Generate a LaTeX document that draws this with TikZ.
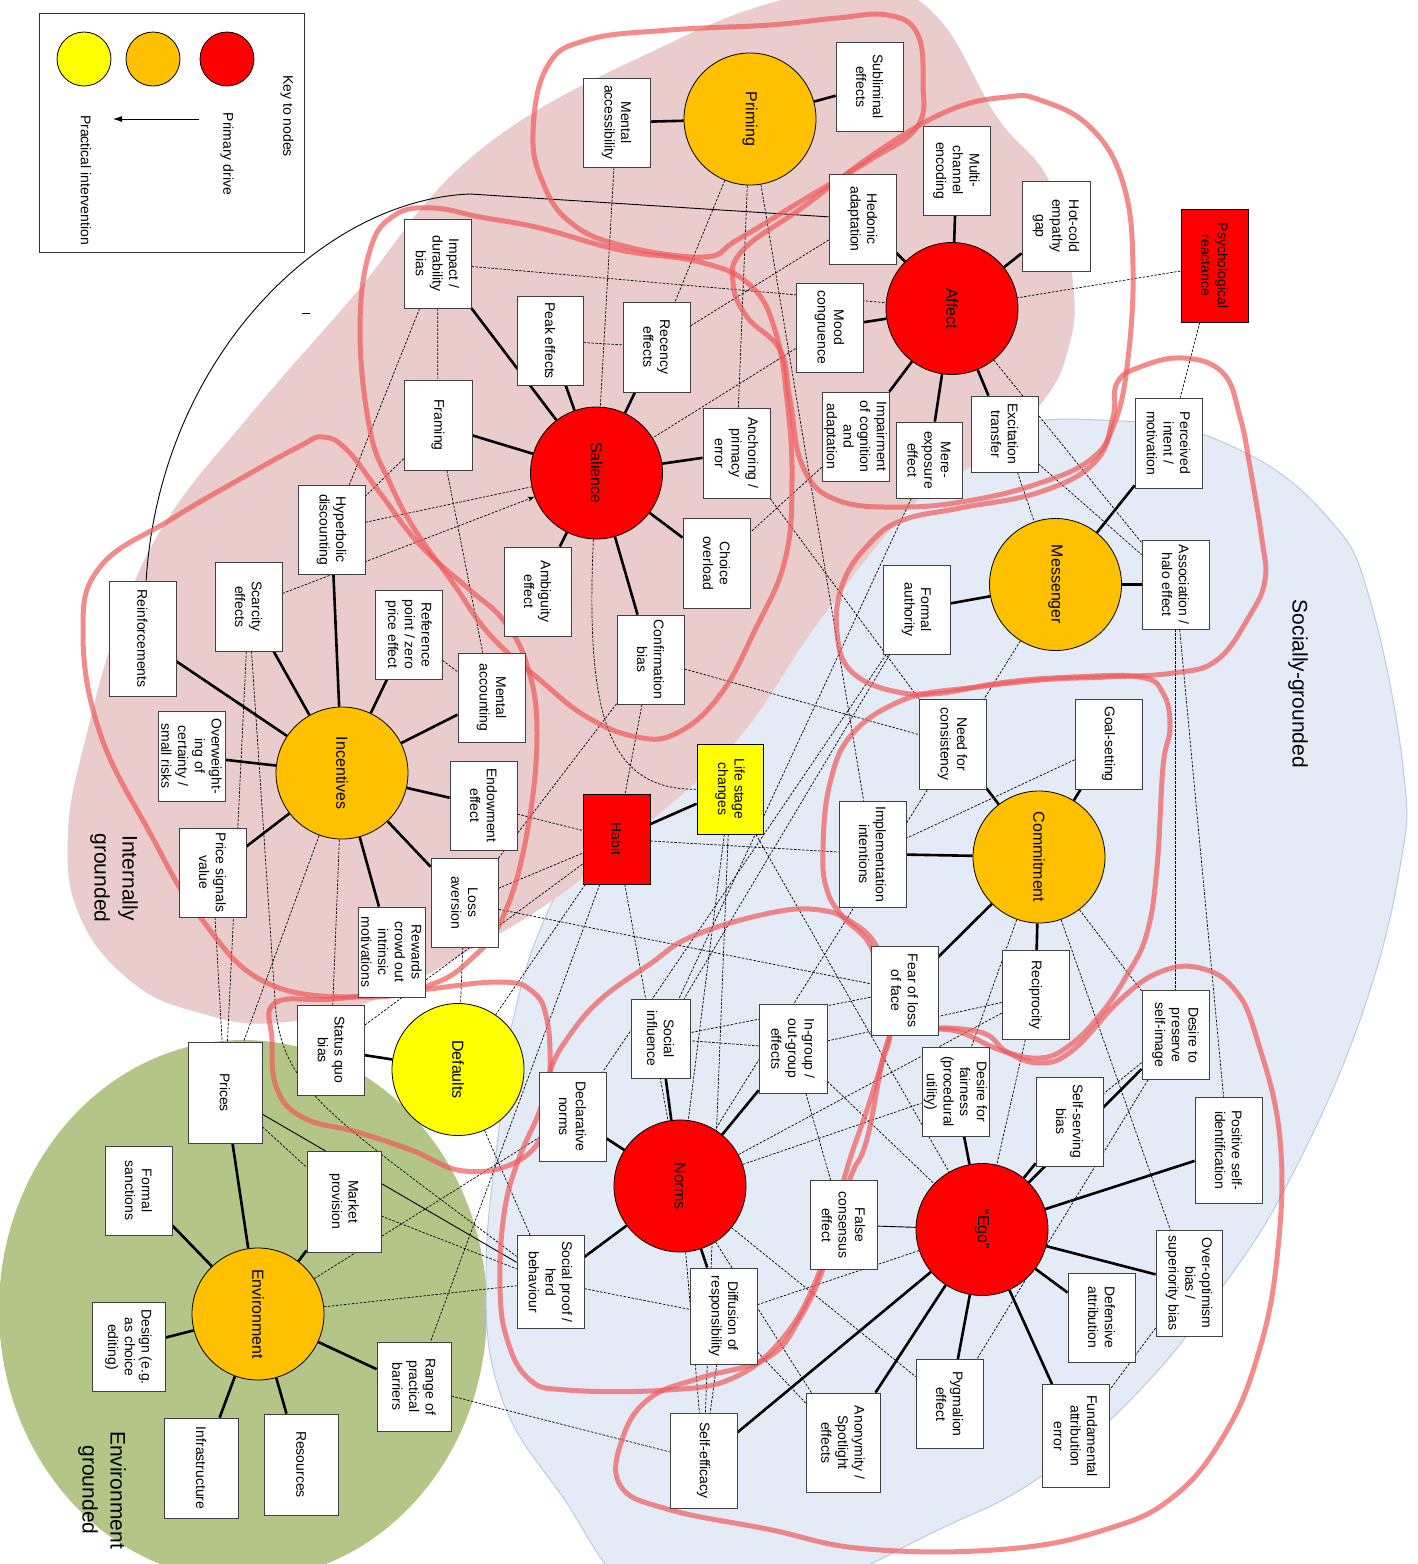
\documentclass[tikz,border=0pt]{standalone}
\usepackage{fontspec}
\setmainfont{Liberation Sans}
\usetikzlibrary{arrows.meta}
\definecolor{cred}{HTML}{FF0000}
\definecolor{corange}{HTML}{FFC000}
\definecolor{cyellow}{HTML}{FFFF00}
\definecolor{pinkreg}{HTML}{EACCCC}
\definecolor{bluereg}{HTML}{E4EBF6}
\definecolor{blueedge}{HTML}{B7CBE5}
\definecolor{greenreg}{HTML}{B3C687}
\definecolor{loopred}{HTML}{F05A5A}
\pgfdeclarelayer{regions}\pgfdeclarelayer{edges}\pgfdeclarelayer{loops}
\pgfsetlayers{regions,edges,loops,main}
\newcommand\mybox[5]{\node[box, minimum width=#4pt, minimum height=#3pt] (#1) at (#2) {#5};}
\begin{document}
\begin{tikzpicture}[x=1pt,y=-1pt,
  box/.style={draw=black!75, line width=0.8pt, fill=white, rectangle, rotate=-90, align=center, inner sep=0.5pt, font=\fontsize{14}{16.7}\selectfont},
  circ/.style={circle, draw=black, line width=0.8pt, minimum size=132pt, inner sep=0pt, rotate=-90, font=\fontsize{16}{19}\selectfont},
  keycirc/.style={circle, draw=black, line width=0.8pt, minimum size=54pt, inner sep=0pt},
  drive/.style={line width=2.6pt},
  dsh/.style={line width=0.7pt, dash pattern=on 2.5pt off 1.5pt},
  thinl/.style={line width=0.9pt},
  loopline/.style={draw=loopred, line width=5pt, draw opacity=0.7},
  big/.style={rotate=-90, align=center, font=\fontsize{21}{28}\selectfont},
  keytxt/.style={rotate=-90, font=\fontsize{14}{16}\selectfont}]
\useasboundingbox (0,0) rectangle (1418,1564);

% ---------------- regions
\begin{pgfonlayer}{regions}
\fill[greenreg] (243,1310) ellipse [x radius=244, y radius=270];
\filldraw[fill=bluereg, draw=blueedge, line width=1pt] plot[smooth cycle, tension=0.7] coordinates {
 (553,900) (650,720) (800,560) (970,440) (1122,421) (1240,450) (1330,520) (1370,600) (1403,767)
 (1400,867) (1360,1020) (1290,1179) (1223,1286) (1140,1390) (1040,1477) (940,1529) (800,1590)
 (650,1600) (560,1493) (500,1393) (486,1271) (500,1120) (513,1020)};
\fill[pinkreg] plot[smooth cycle, tension=0.7] coordinates {
 (480,150) (670,43) (800,-5) (880,-12) (940,20) (997,117) (1050,183) (1073,283) (1068,350)
 (1040,405) (980,460) (913,505) (820,620) (737,740) (640,830) (553,900) (470,950) (375,1000)
 (275,1023) (200,1013) (133,983) (80,917) (68,833) (87,733) (120,620) (167,520) (250,415) (350,300)};
\end{pgfonlayer}

% ---------------- legend
\node[draw=black!80, line width=0.8pt, minimum width=265pt, minimum height=239pt, inner sep=0pt] (keybox) at (171.5,132.5) {};
\node[keycirc, fill=cyellow] (ky) at (84,59) {};
\node[keycirc, fill=corange] (ko) at (153,59) {};
\node[keycirc, fill=cred] (kr) at (227,59) {};
\node[keytxt] (kt1) at (287,116) {Key to nodes};
\node[keytxt] (kt2) at (227,154) {Primary drive};
\node[keytxt] (kt3) at (86,180) {Practical intervention};
\coordinate (ka1) at (199,119);
\coordinate (ka2) at (113,119);
\draw[line width=0.8pt, -{Latex[length=9pt,width=6pt]}] (ka1) -- (ka2);
\coordinate (tk1) at (302,313);
\coordinate (tk2) at (310,313);
\draw[line width=0.8pt] (tk1) -- (tk2);

% ---------------- drive circles
\node[circ, fill=corange] (priming) at (750,119) {Priming};
\node[circ, fill=cred] (affect) at (952,308.5) {Affect};
\node[circ, fill=cred] (salience) at (596.5,473) {Salience};
\node[circ, fill=corange] (incentives) at (342,773) {Incentives};
\node[circ, fill=corange] (messenger) at (1055.5,584.5) {Messenger};
\node[circ, fill=corange] (commitment) at (1039,857) {Commitment};
\node[circ, fill=cyellow] (defaults) at (458,1069.5) {Defaults};
\node[circ, fill=corange] (environment) at (258,1314) {Environment};
\node[circ, fill=cred] (norms) at (680,1186) {Norms};
\node[circ, fill=cred] (ego) at (982,1229.5) {“Ego”};

% ---------------- boxes
\mybox{impact}{437.5,263.5}{67}{89}{Impact /\\durability\\bias}
\mybox{framing}{438,425}{68}{90}{Framing}
\mybox{hyper}{331.5,529.5}{67}{89}{Hyperbolic\\discounting}
\mybox{mentalacc}{616.5,122.5}{67}{89}{Mental\\accessibility}
\mybox{sublim}{869.5,86.5}{67}{89}{Subliminal\\effects}
\mybox{hedonic}{862.5,219}{67}{90}{Hedonic\\adaptation}
\mybox{multi}{956.5,170.5}{67}{89}{Multi-\\channel\\encoding}
\mybox{peak}{550,340.5}{66}{89}{Peak effects}
\mybox{recency}{656.5,347}{67}{90}{Recency\\effects}
\mybox{mood}{829.5,327.5}{67}{89}{Mood\\congruence}
\mybox{anchor}{736.5,453}{67}{90}{Anchoring /\\primacy\\error}
\mybox{impair}{855.5,436.5}{67}{89}{Impairment\\of cognition\\and\\adaptation}
\mybox{mere}{929,460}{66}{76}{Mere-\\exposure\\effect}
\mybox{hotcold}{1056,226}{68}{90}{Hot-cold\\empathy\\gap}
\node[box, fill=cred, draw=black, minimum width=113pt, minimum height=67pt] (psych) at (1214.5,265.5) {Psychological\\reactance};
\mybox{excit}{1004.5,434}{67}{76}{Excitation\\transfer}
\mybox{perceived}{1168.5,443}{67}{90}{Perceived\\intent /\\motivation}
\mybox{reinf}{142.5,638.5}{67}{115}{Reinforcements}
\mybox{scarcity}{248.5,606.5}{67}{89}{Scarcity\\effects}
\mybox{refpoint}{408.5,634.5}{67}{89}{Reference\\point / zero\\price effect}
\mybox{mentalacct}{491.5,697.5}{67}{89}{Mental\\accounting}
\mybox{overw}{191.5,756}{67}{90}{Overweight-\\ing of\\certainty /\\small risks}
\mybox{endow}{483.5,805.5}{67}{89}{Endowment\\effect}
\mybox{pricesig}{212.5,872.5}{67}{89}{Price signals\\value}
\mybox{loss}{464.5,902.5}{67}{89}{Loss\\aversion}
\mybox{rewards}{391.5,952}{67}{90}{Rewards\\crowd out\\intrinsic\\motivations}
\mybox{ambig}{537.5,591.5}{67}{89}{Ambiguity\\effect}
\mybox{choice}{716.5,563}{67}{90}{Choice\\overload}
\mybox{confirm}{650.5,659.5}{67}{89}{Confirmation\\bias}
\node[box, fill=cyellow, draw=black, minimum width=90pt, minimum height=66pt] (life) at (730,789) {Life stage\\changes};
\node[box, fill=cred, draw=black, minimum width=90pt, minimum height=67pt] (habit) at (616.5,839) {Habit};
\mybox{formal}{916.5,609.5}{67}{89}{Formal\\authority}
\mybox{needcons}{952.5,744}{67}{90}{Need for\\consistency}
\mybox{impl}{872.5,854}{67}{106}{Implementation\\intentions}
\mybox{fear}{904.5,990.5}{67}{89}{Fear of loss\\of face}
\mybox{assoc}{1175.5,584.5}{67}{89}{Association /\\halo effect}
\mybox{goal}{1108.5,744}{67}{90}{Goal-setting}
\mybox{recip}{1035.5,995}{67}{89}{Reciprocity}
\mybox{prices}{225,1092.5}{74}{101}{Prices}
\mybox{statusquo}{331,1050}{67}{90}{Status quo\\bias}
\mybox{formsanc}{138.5,1190.5}{67}{89}{Formal\\sanctions}
\mybox{market}{344,1201.5}{74}{101}{Market\\provision}
\mybox{design}{128.5,1347}{73}{89}{Design (e.g.\\as choice\\editing)}
\mybox{range}{414,1386.5}{74}{89}{Range of\\practical\\barriers}
\mybox{infra}{201,1468}{74}{100}{Infrastructure}
\mybox{resources}{301,1464.5}{74}{101}{Resources}
\mybox{socproof}{550.5,1282}{67}{93}{Social proof /\\herd\\behaviour}
\mybox{socinf}{660.5,1038.5}{59}{79}{Social\\influence}
\mybox{ingroup}{793,1048.5}{68}{89}{In-group /\\out-group\\effects}
\mybox{declnorms}{572.5,1116.5}{67}{89}{Declarative\\norms}
\mybox{fairness}{955.5,1091.5}{67}{89}{Desire for\\fairness\\(procedural\\utility)}
\mybox{falsecons}{843.5,1225}{67}{89}{False\\consensus\\effect}
\mybox{diffusion}{723.5,1316}{67}{96}{Diffusion of\\responsibility}
\mybox{anonym}{843,1442.5}{74}{99}{Anonymity /\\Spotlight\\effects}
\mybox{pygm}{949.5,1404}{67}{89}{Pygmalion\\effect}
\mybox{selfeff}{703.5,1460.5}{67}{95}{Self-efficacy}
\mybox{preserve}{1175.5,1035}{67}{89}{Desire to\\preserve\\self-image}
\mybox{selfserv}{1069.5,1121.5}{67}{89}{Self-serving\\bias}
\mybox{posself}{1228.5,1150}{67}{106}{Positive self-\\identification}
\mybox{overopt}{1189,1283}{66}{106}{Over-optimism\\bias /\\superiority bias}
\mybox{defattr}{1101.5,1317.5}{67}{89}{Defensive\\attribution}
\mybox{fundattr}{1075.5,1436}{67}{103}{Fundamental\\attribution\\error}

% ---------------- group labels
\node[big] (lblint) at (114,878) {Internally\\grounded};
\node[big] (lblenv) at (102,1490) {Environment\\grounded};
\node[big] (lblsoc) at (1298,684) {Socially-grounded};

% ---------------- connectors
\begin{pgfonlayer}{edges}
\foreach \a/\b in {priming/mentalacc, priming/sublim,
  affect/hedonic, affect/multi, affect/hotcold, affect/mood, affect/impair, affect/mere, affect/excit,
  salience/impact, salience/framing, salience/peak, salience/recency, salience/anchor, salience/choice, salience/confirm, salience/ambig,
  incentives/reinf, incentives/scarcity, incentives/hyper, incentives/refpoint, incentives/mentalacct, incentives/endow, incentives/loss, incentives/rewards, incentives/pricesig, incentives/overw,
  messenger/perceived, messenger/assoc, messenger/formal,
  commitment/needcons, commitment/goal, commitment/impl, commitment/recip, commitment/fear,
  habit/life, defaults/statusquo,
  environment/prices, environment/formsanc, environment/market, environment/design, environment/infra, environment/resources, environment/range,
  norms/socinf, norms/ingroup, norms/declnorms, norms/socproof, norms/diffusion,
  ego/fairness, ego/selfserv, ego/preserve, ego/posself, ego/overopt, ego/defattr, ego/fundattr, ego/pygm, ego/anonym, ego/selfeff}
  \draw[drive] (\a) -- (\b);
\draw[thinl] (ego) -- (falsecons);
\draw[thinl] (prices) -- (socproof);
\coordinate (bend1) at (470,194);
\draw[thinl] (reinf) .. controls (160,360) and (320,200) .. (bend1) -- (hedonic);
\foreach \a/\b in {psych/affect, psych/perceived, affect/assoc, excit/assoc, excit/messenger,
  impact/affect, impact/framing, impact/hyper, framing/hyper, framing/mentalacct, hyper/salience,
  refpoint/mentalacct, incentives/prices, incentives/statusquo, pricesig/prices, scarcity/prices, loss/defaults,
  mentalacc/salience, priming/recency, priming/anchor, priming/impl, anchor/needcons, hedonic/recency,
  mood/salience, peak/recency, impair/choice, confirm/needcons, confirm/loss, confirm/habit,
  endow/habit, loss/habit, habit/impl, loss/fear, habit/defaults, habit/norms, habit/range,
  life/ego, life/norms, life/selfeff, formal/socinf, formal/declnorms, messenger/norms, mere/socinf,
  assoc/preserve, assoc/posself, goal/impl, commitment/fairness, commitment/overopt, commitment/preserve,
  recip/norms, norms/fairness, recip/ego, preserve/selfserv, preserve/pygm, overopt/fundattr,
  fear/socinf, ingroup/socinf, ingroup/recip, ingroup/falsecons, ingroup/ego, norms/anonym, norms/pygm,
  norms/selfeff, diffusion/selfeff, diffusion/anonym, diffusion/ego, socproof/diffusion, range/selfeff,
  environment/socproof, environment/declnorms, market/socproof, prices/market, defaults/socproof, statusquo/habit}
  \draw[dsh] (\a) -- (\b);
\draw[dsh, -{Stealth[length=7pt,width=5pt]}] (scarcity) -- (salience);
\draw[dsh] (salience) .. controls (585,720) and (610,790) .. (life);
\coordinate (sq1) at (275,1000);
\draw[dsh] (scarcity) -- (sq1) .. controls (280,1090) and (330,1115) .. (socproof);
\end{pgfonlayer}

% ---------------- grouping loops
\begin{pgfonlayer}{loops}
\draw[loopline] plot[smooth cycle, tension=0.7] coordinates {(533,133) (547,67) (587,40) (670,30) (770,25) (837,18) (887,15) (917,33) (923,83) (917,127) (870,160) (803,200) (737,240) (703,257) (620,245) (570,222) (543,183)};
\draw[loopline] plot[smooth cycle, tension=0.7] coordinates {(950,110) (880,150) (803,207) (743,250) (733,283) (747,317) (780,350) (790,400) (803,467) (837,500) (903,507) (973,500) (1040,483) (1090,460) (1113,427) (1127,367) (1133,267) (1123,183) (1090,127) (1040,100) (1007,97)};
\draw[loopline] plot[smooth cycle, tension=0.7] coordinates {(1113,417) (1117,383) (1140,367) (1183,358) (1223,373) (1240,417) (1250,467) (1262,540) (1265,580) (1250,615) (1217,660) (1173,673) (1107,677) (1040,680) (950,690) (903,693) (853,673) (837,633) (843,583) (870,543) (903,520) (960,508) (1040,492) (1095,462)};
\draw[loopline] plot[smooth cycle, tension=0.7] coordinates {(480,217) (540,228) (620,250) (700,262) (750,285) (775,330) (787,400) (792,480) (785,560) (755,630) (720,695) (677,733) (637,737) (587,717) (540,680) (490,635) (453,583) (415,530) (390,483) (370,430) (360,330) (370,250) (395,215) (433,208)};
\draw[loopline] plot[smooth cycle, tension=0.7] coordinates {(323,437) (347,450) (380,493) (420,545) (470,590) (503,620) (527,665) (537,733) (527,833) (503,917) (470,960) (430,985) (367,997) (267,983) (200,917) (150,833) (100,733) (83,633) (100,567) (170,520) (233,483) (300,446)};
\draw[loopline] plot[smooth cycle, tension=0.7] coordinates {(275,1003) (333,999) (420,990) (500,982) (533,992) (547,1020) (550,1071) (546,1125) (518,1161) (464,1171) (411,1150) (357,1132) (304,1118) (277,1089) (272,1040)};
\draw[loopline] plot[smooth cycle, tension=0.7] coordinates {(550,1071) (567,1039) (600,1000) (650,964) (693,936) (770,913) (820,910) (853,923) (877,947) (892,990) (890,1035) (883,1059) (867,1110) (850,1159) (833,1219) (817,1278) (783,1338) (733,1378) (667,1390) (567,1390) (529,1379) (507,1339) (500,1286) (504,1214) (518,1161) (540,1110)};
\draw[loopline] plot[smooth cycle, tension=0.7] coordinates {(903,700) (950,692) (1007,682) (1073,677) (1140,677) (1163,693) (1170,727) (1163,767) (1157,867) (1147,933) (1127,975) (1100,1015) (1070,1045) (1040,1058) (1000,1050) (960,1032) (920,1025) (890,1000) (870,945) (843,917) (827,890) (823,850) (830,783) (853,733)};
\draw[loopline] plot[smooth cycle, tension=0.7] coordinates {(890,1035) (917,1028) (980,1032) (1007,1052) (1040,1063) (1073,1050) (1120,1000) (1160,972) (1200,968) (1235,990) (1257,1039) (1280,1139) (1277,1258) (1257,1358) (1223,1437) (1173,1497) (1107,1529) (1007,1549) (867,1549) (767,1529) (667,1509) (620,1485) (623,1437) (650,1398) (700,1378) (767,1358) (800,1318) (827,1258) (850,1179) (867,1139)};
\end{pgfonlayer}
\end{tikzpicture}
\end{document}
